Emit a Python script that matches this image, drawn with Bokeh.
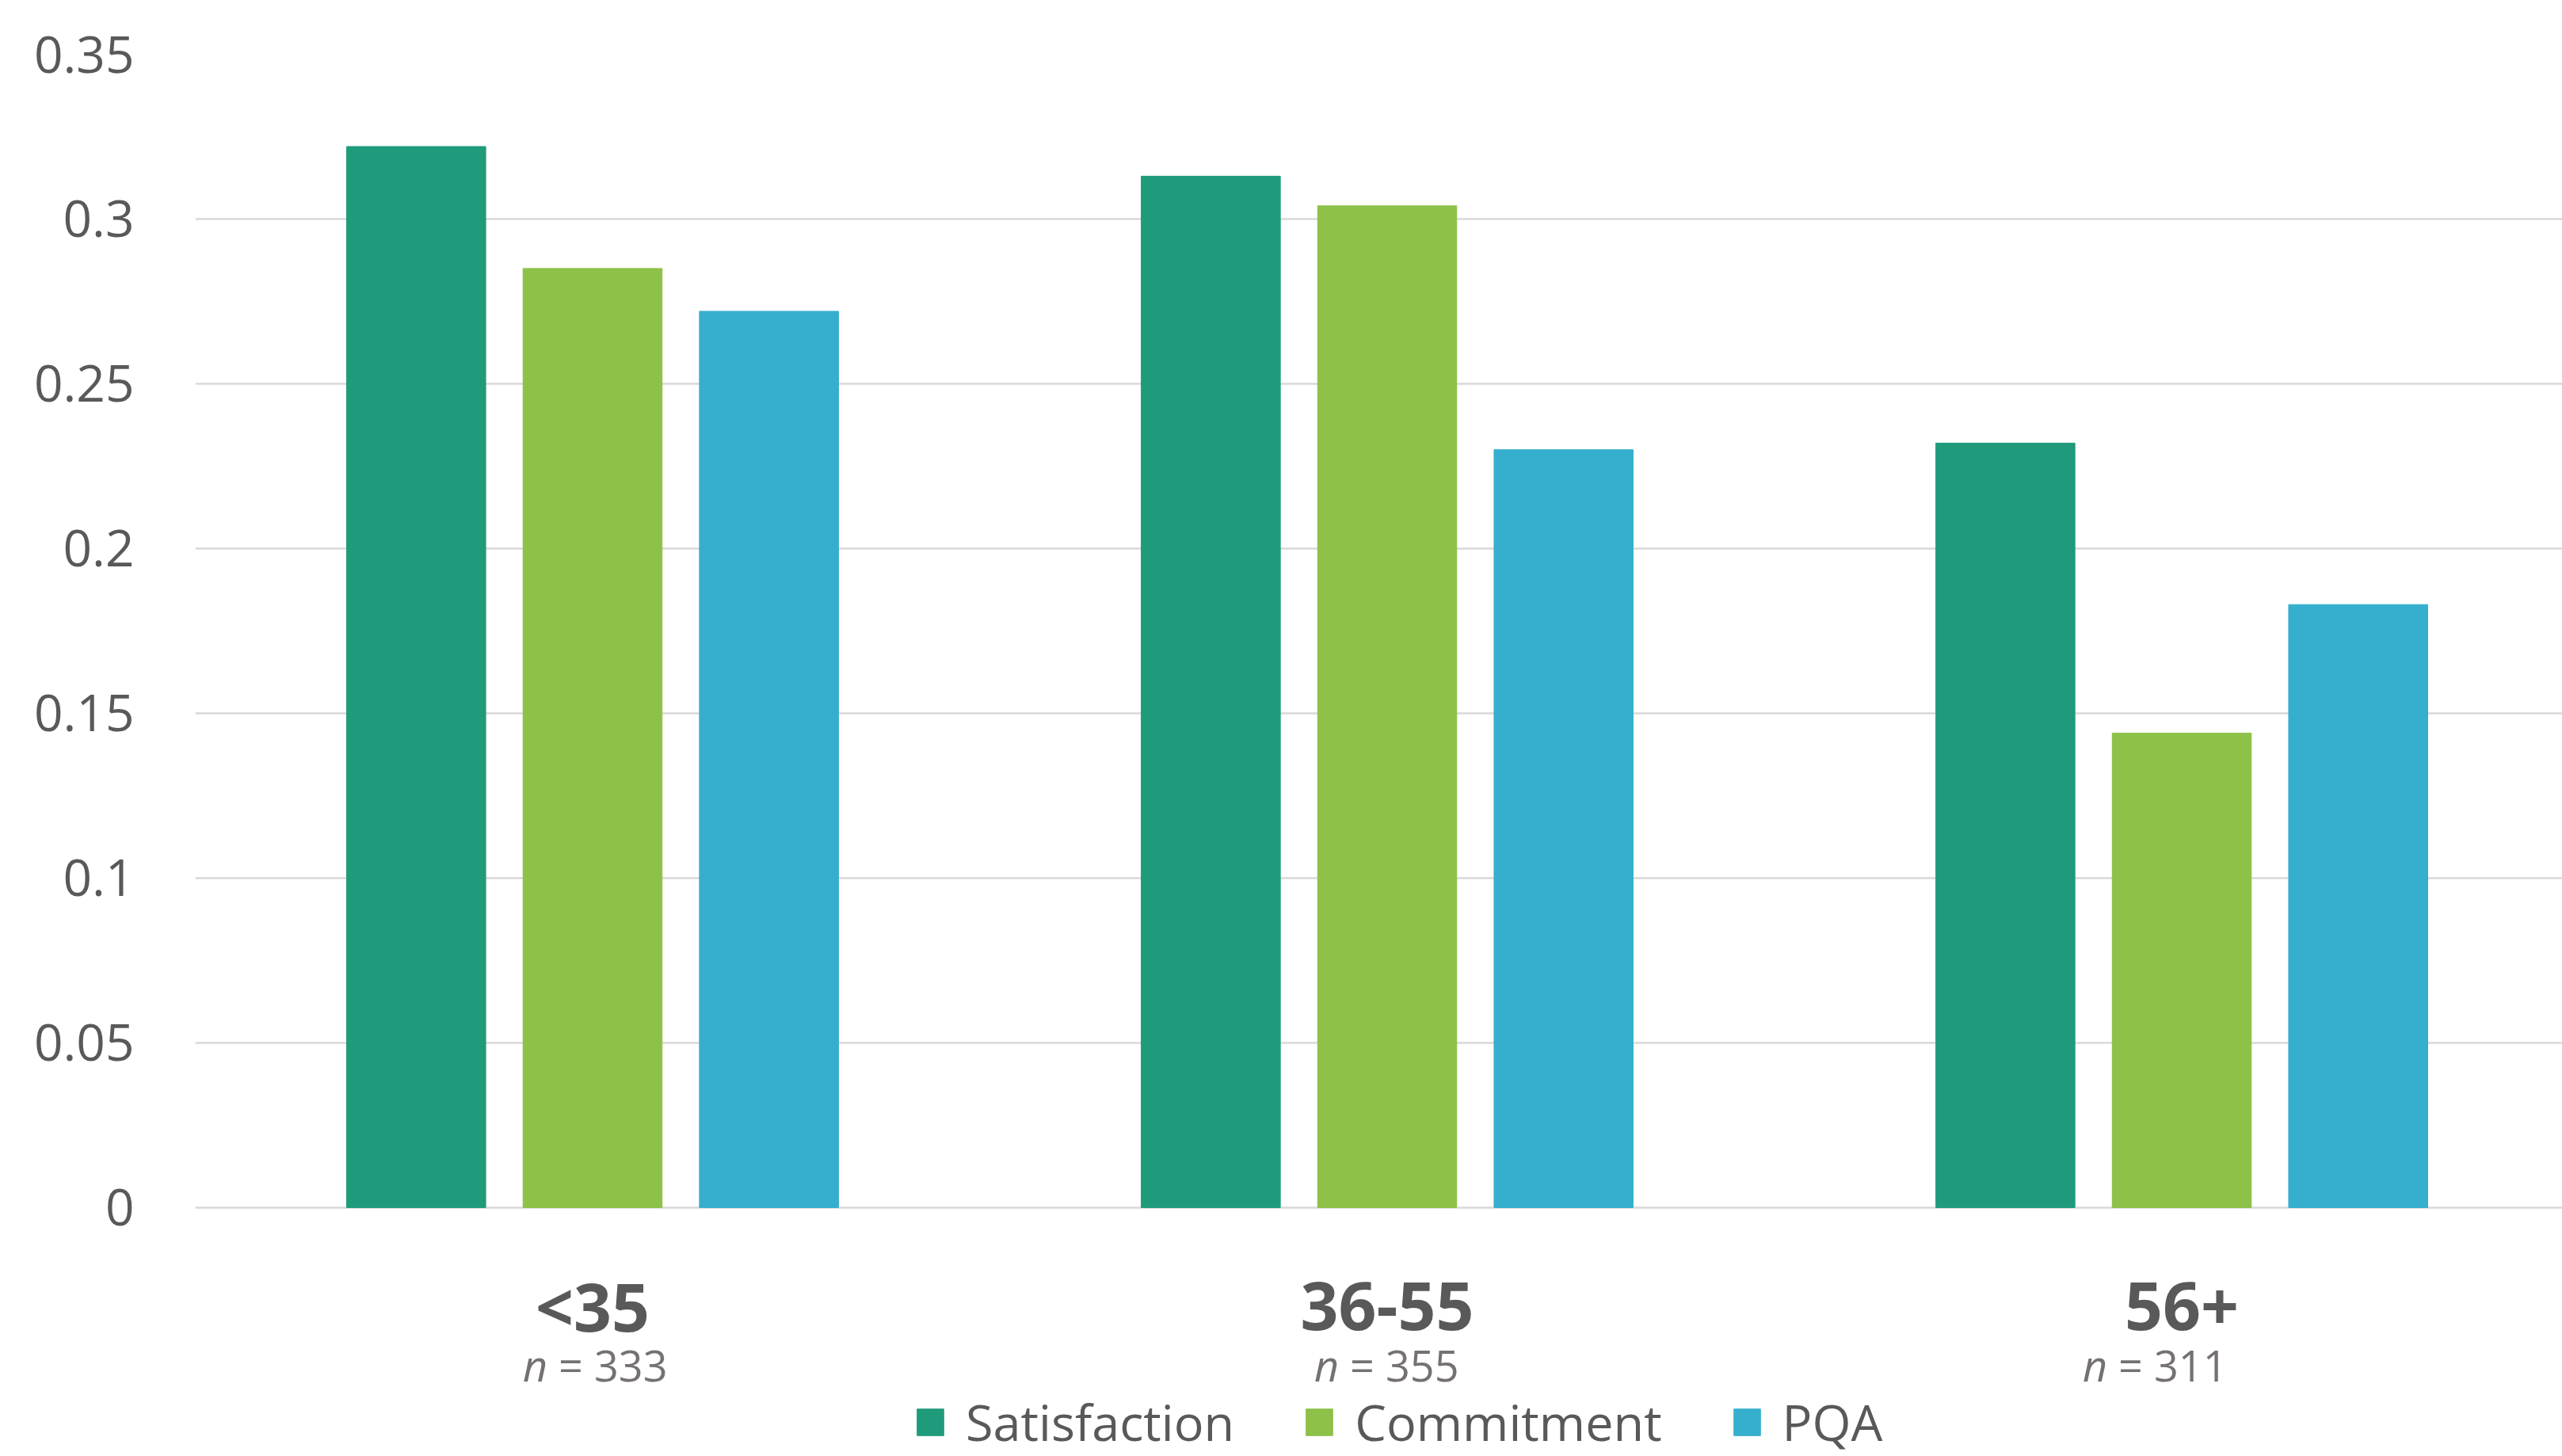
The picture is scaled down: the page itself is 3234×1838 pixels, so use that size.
import numpy as np
from bokeh.plotting import figure
from bokeh.models import ColumnDataSource, Range1d, FixedTicker
from bokeh.transform import dodge
from bokeh.core.properties import value
from bokeh.embed import file_html
from bokeh.resources import INLINE

# ---------------- data ----------------
categories = ["<35", "36-55", "56+"]
sample_sizes = [333, 355, 311]
series = ["Satisfaction", "Commitment", "PQA"]
satisfaction = [0.322, 0.313, 0.232]
commitment = [0.285, 0.304, 0.144]
pqa = [0.272, 0.230, 0.183]
y_ticks = [0, 0.05, 0.1, 0.15, 0.2, 0.25, 0.3, 0.35]
y_tick_labels = ["0", "0.05", "0.1", "0.15", "0.2", "0.25", "0.3", "0.35"]

colors = {"Satisfaction": "#1F9B7B", "Commitment": "#8DC148", "PQA": "#36AFCE"}
FONT = "Open Sans"
W, H = 3234, 1838

n_shift = [3, -1, -34]  # small horizontal nudges (px) of the n labels
src = ColumnDataSource(dict(
    x=list(range(len(categories))),
    cat=categories,
    Satisfaction=satisfaction,
    Commitment=commitment,
    PQA=pqa,
    n_text=["= %d" % n for n in sample_sizes],
    n_it=["n"] * len(categories),
    it_off=[-60 + s for s in n_shift],
    tx_off=[-46 + s for s in n_shift],
))

p = figure(width=W, height=H, output_backend="svg", toolbar_location=None,
           x_axis_location=None,
           x_range=Range1d(-0.5, 2.479), y_range=Range1d(-0.0755, 0.35),
           min_border_left=246, min_border_right=0, min_border_top=68,
           min_border_bottom=0)
p.outline_line_color = None
p.background_fill_color = "white"
p.border_fill_color = "white"

offsets = [-0.222, 0.0, 0.222]
bar_w = 0.175
for s, off in zip(series, offsets):
    p.vbar(x=dodge("x", off, range=p.x_range), top=s, width=bar_w, bottom=0,
           source=src, fill_color=colors[s], line_color=colors[s],
           line_width=1, legend_label=s)

# y axis
p.yaxis.ticker = FixedTicker(ticks=y_ticks)
p.yaxis.major_label_overrides = {t: l for t, l in zip(y_ticks, y_tick_labels)}
p.yaxis.axis_line_color = None
p.yaxis.major_tick_line_color = None
p.yaxis.minor_tick_line_color = None
p.yaxis.major_label_standoff = 71
p.yaxis.major_label_text_font = FONT
p.yaxis.major_label_text_font_size = "64px"
p.yaxis.major_label_text_color = "#595959"

p.xgrid.visible = False
p.ygrid.grid_line_color = "#D9D9D9"
p.ygrid.grid_line_width = 2.5

# category labels
p.text(x="x", y=-0.0298, text="cat", source=src, text_align="center",
       text_baseline="alphabetic", text_font=value(FONT), text_font_style="bold",
       text_font_size="84px", text_color="#595959")
# n = ... labels
p.text(x="x", y=-0.0477, text="n_it", source=src, text_align="right",
       text_baseline="alphabetic", text_font=value(FONT), text_font_style="italic",
       text_font_size="54px", text_color="#767171", x_offset="it_off")
p.text(x="x", y=-0.0477, text="n_text", source=src, text_align="left",
       text_baseline="alphabetic", text_font=value(FONT),
       text_font_size="54px", text_color="#767171", x_offset="tx_off")

# legend
lg = p.legend[0]
lg.orientation = "horizontal"
lg.location = (907, 1)
lg.border_line_color = None
lg.background_fill_alpha = 0
lg.padding = 0
lg.margin = 0
lg.spacing = 86
lg.label_standoff = 24
lg.glyph_width = 42
lg.glyph_height = 42
lg.label_height = 42
lg.label_text_font = FONT
lg.label_text_font_size = "63px"
lg.label_text_color = "#595959"

open("out.html", "w").write(file_html(p, INLINE))
